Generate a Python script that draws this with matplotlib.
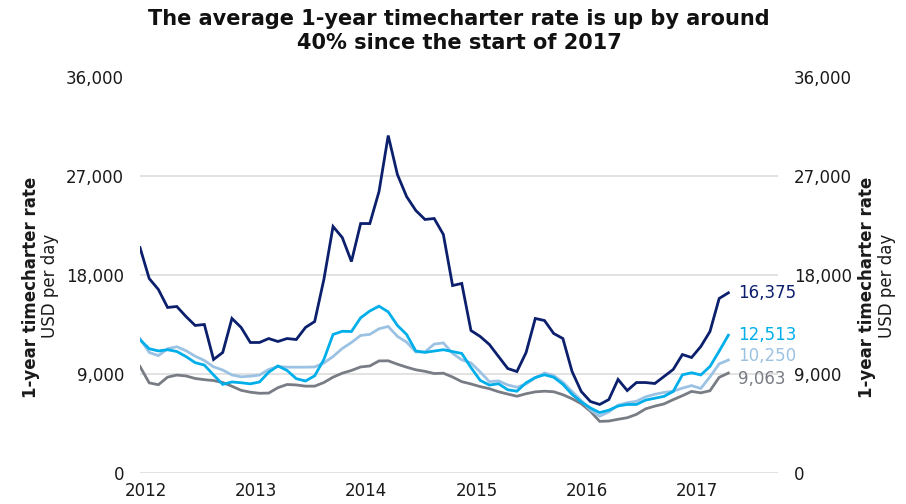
import matplotlib
matplotlib.use("Agg")
import matplotlib.pyplot as plt
import numpy as np

# Monthly data, Jan 2012 - May 2017 (USD per day)
navy = [20500, 17680, 16680, 15040, 15130, 14220, 13400, 13490, 10300, 10940,
        14040, 13220, 11850, 11850, 12210, 11940, 12210, 12120, 13220, 13760,
        17590, 22420, 21420, 19230, 22690, 22690, 25610, 30710, 27160, 25150,
        23880, 23060, 23150, 21690, 17040, 17230, 12940, 12400, 11670, 10570,
        9480, 9200, 10940, 14040, 13850, 12670, 12210, 9200, 7380, 6470,
        6200, 6650, 8480, 7470, 8200, 8200, 8110, 8750, 9390, 10750,
        10480, 11480, 12850, 15860, 16375]
cyan = [12100, 11280, 11080, 11190, 11030, 10570, 10010, 9790, 8890, 8030,
        8250, 8180, 8080, 8250, 9140, 9710, 9300, 8550, 8340, 8810,
        10300, 12580, 12870, 12850, 14100, 14720, 15160, 14640, 13400, 12580,
        11070, 10950, 11070, 11190, 11020, 10850, 9570, 8400, 7970, 8090,
        7540, 7410, 8180, 8660, 8910, 8680, 8040, 7120, 6430, 5880,
        5460, 5680, 6060, 6200, 6200, 6600, 6770, 6940, 7390, 8900,
        9090, 8890, 9660, 11060, 12513]
light = [12210, 10940, 10650, 11280, 11460, 11100, 10600, 10210, 9630, 9340,
         8890, 8720, 8780, 8880, 9390, 9660, 9600, 9600, 9600, 9620,
         9980, 10570, 11300, 11850, 12490, 12590, 13100, 13310, 12410, 11880,
         10990, 10990, 11700, 11810, 10850, 10270, 9990, 9170, 8280, 8350,
         7980, 7770, 8070, 8620, 9070, 8830, 8230, 7390, 6550, 5710,
         5130, 5520, 6130, 6360, 6490, 6900, 7130, 7300, 7410, 7690,
         7920, 7660, 8720, 9900, 10250]
gray = [9660, 8170, 8000, 8690, 8880, 8800, 8570, 8460, 8380, 8200,
        7860, 7490, 7320, 7220, 7240, 7730, 8020, 7980, 7870, 7870,
        8200, 8690, 9050, 9300, 9620, 9710, 10170, 10180, 9870, 9600,
        9360, 9220, 9020, 9050, 8700, 8280, 8070, 7830, 7640, 7360,
        7150, 6950, 7180, 7350, 7410, 7360, 7090, 6720, 6270, 5580,
        4660, 4690, 4850, 4990, 5300, 5800, 6050, 6250, 6640, 7000,
        7390, 7260, 7450, 8670, 9063]
years = ["2012", "2013", "2014", "2015", "2016", "2017"]
yticks = [0, 9000, 18000, 27000, 36000]
end_labels = ["16,375", "12,513", "10,250", "9,063"]

c_navy = "#0b1f6d"
c_cyan = "#00aeea"
c_light = "#9cc2e3"
c_gray = "#787c84"

fig = plt.figure(figsize=(9.06, 5.04), dpi=100)
ax = fig.add_axes([140/906, 1-472.5/504, 638/906, (472.5-77.5)/504])

x = np.arange(len(navy))
series = [(gray, c_gray), (light, c_light), (cyan, c_cyan), (navy, c_navy)]
for vals, col in series:
    ax.plot(x, vals, color=col, lw=2.0, solid_joinstyle="miter", zorder=3)

ax.set_xlim(0, 69.4)
ax.set_ylim(0, 36000)
ax.set_yticks(yticks)
ax.set_yticklabels([f"{v:,}" for v in yticks])
ax.set_xticks([12*k + 0.6 for k in range(len(years))])
ax.set_xticklabels(years)
ax.grid(axis="y", color="#e2e2e2", lw=1.4, zorder=0)
ax.grid(axis="x", visible=False)
for s in ax.spines.values():
    s.set_visible(False)
ax.tick_params(axis="y", length=0, labelsize=12, pad=11.5, labelright=True,
               labelcolor="#1a1a1a")
ax.tick_params(axis="x", length=0, labelsize=12, pad=7, labelcolor="#1a1a1a")

# end labels
last = len(navy) - 1
ends = [(navy[-1], c_navy, end_labels[0], 0),
        (cyan[-1], c_cyan, end_labels[1], 0),
        (light[-1], c_light, end_labels[2], 3),
        (gray[-1], c_gray, end_labels[3], -4.5)]
for v, col, lab, dy in ends:
    ax.annotate(lab, xy=(last, v), xytext=(7, dy), textcoords="offset points",
                ha="left", va="center", fontsize=12, color=col)

# axis titles
for xb, xr in [(31.5, 50), (867.5, 886.5)]:
    fig.text(xb/906, 1-287/504, "1-year timecharter rate", rotation=90,
             ha="center", va="center", fontsize=12, fontweight="bold",
             color="#1a1a1a")
    fig.text(xr/906, 1-286/504, "USD per day", rotation=90,
             ha="center", va="center", fontsize=12, color="#1a1a1a")

fig.text(459/906, 1-31/504,
         "The average 1-year timecharter rate is up by around\n40% since the start of 2017",
         ha="center", va="center", fontsize=15, fontweight="bold",
         linespacing=1.25, color="#111111")

fig.savefig("out.png", dpi=100)
